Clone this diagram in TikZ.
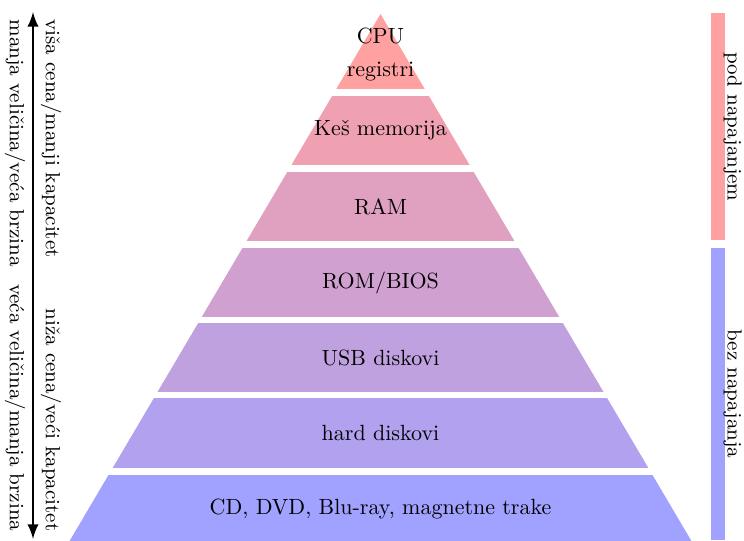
\documentclass[tikz,border=0pt]{standalone}
\usepackage{tikz}
\usetikzlibrary{arrows}
\tikzstyle{arrow} = [line width=1.3pt,<->,>=latex]
\tikzstyle{side} = [rotate=-90]
\tikzstyle{note} = [side, font=\fontsize{9.3}{11}\selectfont]
\tikzstyle{lvla} = [fill=red!37!white]
\tikzstyle{lvlb} = [fill=blue!17!red!37!white]
\tikzstyle{lvlc} = [fill=blue!33!red!37!white]
\tikzstyle{lvld} = [fill=blue!50!red!37!white]
\tikzstyle{lvle} = [fill=blue!67!red!37!white]
\tikzstyle{lvlf} = [fill=blue!83!red!37!white]
\tikzstyle{lvlg} = [fill=blue!37!white]

\begin{document}
\begin{tikzpicture}[x=0.4545pt, y=-0.4545pt]
		\useasboundingbox (0,0) rectangle (744,540);
		\begin{scope}
			\clip (380.5,14) -- (67.2,545) -- (693.8,545) -- cycle;
			\fill [lvla] (0,0) rectangle (744,89);
			\fill [lvlb] (0,96) rectangle (744,165);
			\fill [lvlc] (0,172) rectangle (744,241);
			\fill [lvld] (0,248) rectangle (744,317);
			\fill [lvle] (0,323) rectangle (744,392);
			\fill [lvlf] (0,398) rectangle (744,468);
			\fill [lvlg] (0,475) rectangle (744,545);
		\end{scope}
		\node (cpu) [align=center] at (380.5,54.5) {CPU\\[3pt]registri};
		\node (kes) at (380.5,130.5) {Keš memorija};
		\node (ram) at (380.5,206.5) {RAM};
		\node (rom) at (380.5,282.5) {ROM/BIOS};
		\node (usb) at (380.5,357.5) {USB diskovi};
		\node (hdd) at (380.5,433) {hard diskovi};
		\node (cd) at (380.5,509) {CD, DVD, Blu-ray, magnetne trake};
		\coordinate (top) at (33,12);
		\coordinate (bot) at (33,539);
		\draw [arrow] (top) -- (bot);
		\node (skuplje) [note, anchor=south west] at (top) {viša cena/manji kapacitet};
		\node (brze) [note, anchor=north west] at (top) {manja veličina/veća brzina};
		\node (jeftinije) [note, anchor=south east] at (bot) {niža cena/veći kapacitet};
		\node (sporije) [note, anchor=north east] at (bot) {veća veličina/manja brzina};
		\fill [lvla] (711,13) rectangle (725,240);
		\fill [lvlg] (711,248) rectangle (725,540);
		\node (pod) [note, inner sep=0pt, anchor=south] at (723,127) {pod napajanjem};
		\node (bez) [note, inner sep=0pt, anchor=south] at (723,394) {bez napajanja};
\end{tikzpicture}
\end{document}
